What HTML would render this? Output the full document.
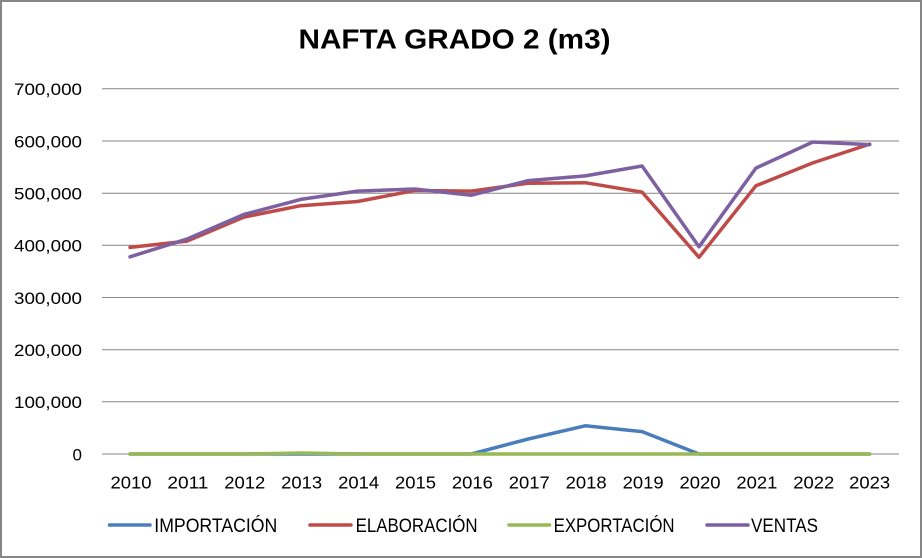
<!DOCTYPE html>
<html>
<head>
<meta charset="utf-8">
<style>
  html,body{margin:0;padding:0;background:#fff;}
  svg{display:block;}
  text{font-family:"Liberation Sans",Arial,sans-serif;fill:#000;}
</style>
</head>
<body>
<svg width="922" height="558" viewBox="0 0 922 558" xmlns="http://www.w3.org/2000/svg">
  <rect x="0" y="0" width="922" height="558" fill="#fff"/>
  <!-- border -->
  <rect x="1" y="1" width="920" height="556" fill="none" stroke="#868686" stroke-width="2"/>

  <!-- title -->
  <text x="454.5" y="48.3" font-size="28" font-weight="bold" text-anchor="middle" textLength="312" lengthAdjust="spacingAndGlyphs">NAFTA GRADO 2 (m3)</text>

  <!-- gridlines -->
  <g stroke="#868686" stroke-width="1">
    <line x1="102" y1="88.8" x2="899" y2="88.8"/>
    <line x1="102" y1="141.0" x2="899" y2="141.0"/>
    <line x1="102" y1="193.2" x2="899" y2="193.2"/>
    <line x1="102" y1="245.3" x2="899" y2="245.3"/>
    <line x1="102" y1="297.5" x2="899" y2="297.5"/>
    <line x1="102" y1="349.7" x2="899" y2="349.7"/>
    <line x1="102" y1="401.8" x2="899" y2="401.8"/>
    <line x1="102" y1="454" x2="899" y2="454"/>
  </g>

  <!-- y labels -->
  <g font-size="17" text-anchor="end">
    <text x="82" y="95.1" textLength="68" lengthAdjust="spacingAndGlyphs">700,000</text>
    <text x="82" y="147.3" textLength="68" lengthAdjust="spacingAndGlyphs">600,000</text>
    <text x="82" y="199.5" textLength="68" lengthAdjust="spacingAndGlyphs">500,000</text>
    <text x="82" y="251.6" textLength="68" lengthAdjust="spacingAndGlyphs">400,000</text>
    <text x="82" y="303.8" textLength="68" lengthAdjust="spacingAndGlyphs">300,000</text>
    <text x="82" y="356.0" textLength="68" lengthAdjust="spacingAndGlyphs">200,000</text>
    <text x="82" y="408.1" textLength="68" lengthAdjust="spacingAndGlyphs">100,000</text>
    <text x="82" y="460.3">0</text>
  </g>

  <!-- x labels -->
  <g font-size="17.5" text-anchor="middle">
    <text x="131" y="488.5" textLength="41" lengthAdjust="spacingAndGlyphs">2010</text>
    <text x="187.9" y="488.5" textLength="41" lengthAdjust="spacingAndGlyphs">2011</text>
    <text x="244.8" y="488.5" textLength="41" lengthAdjust="spacingAndGlyphs">2012</text>
    <text x="301.7" y="488.5" textLength="41" lengthAdjust="spacingAndGlyphs">2013</text>
    <text x="358.6" y="488.5" textLength="41" lengthAdjust="spacingAndGlyphs">2014</text>
    <text x="415.5" y="488.5" textLength="41" lengthAdjust="spacingAndGlyphs">2015</text>
    <text x="472.4" y="488.5" textLength="41" lengthAdjust="spacingAndGlyphs">2016</text>
    <text x="529.3" y="488.5" textLength="41" lengthAdjust="spacingAndGlyphs">2017</text>
    <text x="586.2" y="488.5" textLength="41" lengthAdjust="spacingAndGlyphs">2018</text>
    <text x="643.1" y="488.5" textLength="41" lengthAdjust="spacingAndGlyphs">2019</text>
    <text x="700" y="488.5" textLength="41" lengthAdjust="spacingAndGlyphs">2020</text>
    <text x="756.9" y="488.5" textLength="41" lengthAdjust="spacingAndGlyphs">2021</text>
    <text x="813.8" y="488.5" textLength="41" lengthAdjust="spacingAndGlyphs">2022</text>
    <text x="869.7" y="488.5" textLength="41" lengthAdjust="spacingAndGlyphs">2023</text>
  </g>

  <!-- series -->
  <g fill="none" stroke-width="3.5" stroke-linejoin="round" stroke-linecap="round">
    <!-- IMPORTACION -->
    <polyline stroke="#4A7EBB" points="130,454 186.9,454 243.8,454 300.7,454 357.6,454 414.5,454 471.4,454 528.3,439.0 585.2,425.8 642.1,431.6 699,454 755.9,454 812.8,454 869.7,454"/>
    <!-- ELABORACION -->
    <polyline stroke="#BE4B48" points="130,247.4 186.9,241.1 243.8,217.1 300.7,205.7 357.6,201.5 414.5,190.5 471.4,191.1 528.3,183.2 585.2,182.7 642.1,192.1 699,257.3 755.9,185.8 812.8,162.9 869.7,144.1"/>
    <!-- EXPORTACION -->
    <polyline stroke="#98B954" points="130,454 186.9,454 243.8,454 300.7,453 357.6,454 414.5,454 471.4,454 528.3,454 585.2,454 642.1,454 699,454 755.9,454 812.8,454 869.7,454"/>
    <!-- VENTAS -->
    <polyline stroke="#7D60A0" points="130,256.8 186.9,239.1 243.8,214.5 300.7,199.4 357.6,191.1 414.5,189.0 471.4,195.2 528.3,180.6 585.2,175.9 642.1,166.0 699,246.8 755.9,168.1 812.8,142.0 869.7,144.6"/>
  </g>

  <!-- legend -->
  <g stroke-width="3.5" stroke-linecap="round">
    <line x1="109.5" y1="525" x2="150" y2="525" stroke="#4A7EBB"/>
    <line x1="310" y1="525" x2="351" y2="525" stroke="#BE4B48"/>
    <line x1="509" y1="525" x2="549.5" y2="525" stroke="#98B954"/>
    <line x1="707" y1="525" x2="748" y2="525" stroke="#7D60A0"/>
  </g>
  <g font-size="19">
    <text x="154.3" y="532" textLength="123" lengthAdjust="spacingAndGlyphs">IMPORTACIÓN</text>
    <text x="355.6" y="532" textLength="122" lengthAdjust="spacingAndGlyphs">ELABORACIÓN</text>
    <text x="553.6" y="532" textLength="121" lengthAdjust="spacingAndGlyphs">EXPORTACIÓN</text>
    <text x="751" y="532" textLength="67" lengthAdjust="spacingAndGlyphs">VENTAS</text>
  </g>
</svg>
</body>
</html>
